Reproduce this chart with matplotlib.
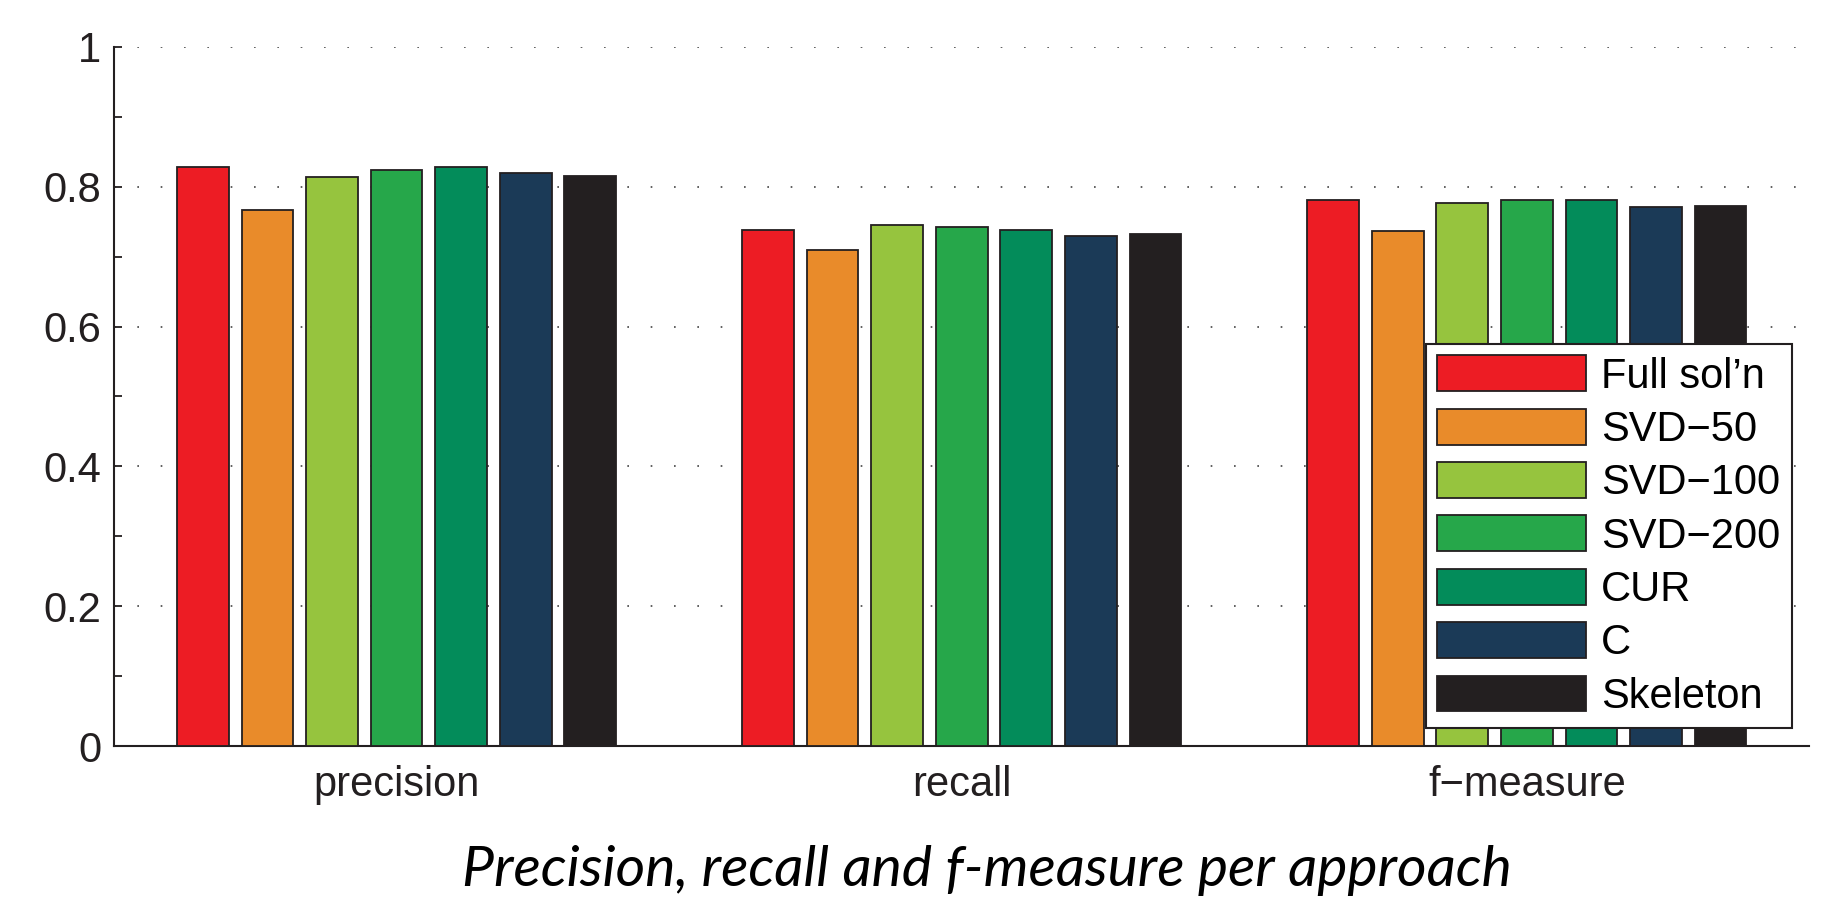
import numpy as np
import matplotlib
matplotlib.use("Agg")
import matplotlib.pyplot as plt
from matplotlib.patches import Rectangle
from matplotlib.legend_handler import HandlerPatch

metrics = ["precision", "recall", "f\u2212measure"]
approaches = ["Full sol\u2019n", "SVD\u221250", "SVD\u2212100", "SVD\u2212200", "CUR", "C", "Skeleton"]
colors = ["#ed1c24", "#e98b2a", "#96c43e", "#26a74a", "#038c5a", "#1b3a57", "#231f20"]

precision = [0.828, 0.767, 0.814, 0.824, 0.828, 0.820, 0.816]
recall = [0.738, 0.709, 0.745, 0.743, 0.738, 0.729, 0.733]
fmeasure = [0.781, 0.736, 0.776, 0.781, 0.781, 0.771, 0.772]

plt.rcParams["font.family"] = ["Liberation Sans", "DejaVu Sans"]

values = np.array([precision, recall, fmeasure])
x = np.arange(1, len(metrics) + 1)
step = 0.8 / len(approaches)
width = step * 0.8

fig = plt.figure(figsize=(18.24, 9.01), dpi=100)
ax = fig.add_axes([0.0625, 0.172, 0.9295, 0.776])

for i, name in enumerate(approaches):
    ax.bar(x + (i - 3) * step, values[:, i], width, color=colors[i],
           edgecolor="#231f20", linewidth=1.3, label=name, zorder=3)

ax.set_xlim(0.5, 3.5)
ax.set_ylim(0, 1)
ax.set_xticks(x)
ax.set_xticklabels(metrics)
ax.set_yticks(np.arange(0, 1.01, 0.2))
ax.set_yticklabels(["0", "0.2", "0.4", "0.6", "0.8", "1"])
ax.set_yticks(np.arange(0.1, 1.0, 0.2), minor=True)
ax.tick_params(axis="y", which="both", direction="in", length=6, width=1.3,
               labelsize=30, pad=9, color="#231f20", labelcolor="#231f20")
ax.tick_params(axis="x", length=0, labelsize=30, pad=14, labelcolor="#231f20")
ax.spines["top"].set_visible(False)
ax.spines["right"].set_visible(False)
for s in ["left", "bottom"]:
    ax.spines[s].set_linewidth(1.5)
    ax.spines[s].set_color("#231f20")
ax.yaxis.grid(True, linestyle=(0, (1, 13)), linewidth=1.2, color="#444444", zorder=0)
ax.set_axisbelow(True)


def shifted_patch(legend, orig_handle, xdescent, ydescent, width, height, fontsize):
    off = 0.36 * fontsize
    return Rectangle((-xdescent + off, -ydescent), width - off, height)


leg = ax.legend(loc="upper left", bbox_to_anchor=(0.774, 0.575), borderaxespad=0,
                fontsize=30, handlelength=3.57, handleheight=0.95, handletextpad=0.36,
                labelspacing=0.29, borderpad=0.27, fancybox=False, framealpha=1,
                edgecolor="#231f20",
                handler_map={Rectangle: HandlerPatch(patch_func=shifted_patch)})
leg.get_frame().set_linewidth(1.5)
for h in leg.legend_handles:
    h.set_edgecolor("#231f20")
    h.set_linewidth(1.3)

fig.text(0.541, 0.0166, "Precision, recall and f-measure per approach",
         family=["Lato", "DejaVu Sans"], style="italic",
         fontsize=41, ha="center", va="baseline", color="black")

fig.savefig("out.png", dpi=100)
